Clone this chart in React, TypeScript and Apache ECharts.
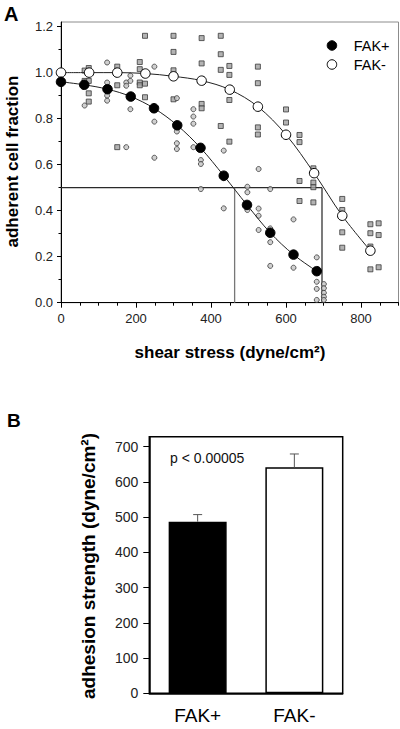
import React, { useEffect, useRef } from "react";
import * as echarts from "echarts";

// ---- Panel A data ----
const shearPlus = [0, 62, 124, 186, 248, 310, 372, 434, 496, 558, 620, 682];
const meanPlus = [0.96, 0.947, 0.928, 0.896, 0.845, 0.771, 0.673, 0.552, 0.425, 0.304, 0.209, 0.137];
const shearMinus = [0, 75, 150, 225, 300, 375, 450, 525, 600, 675, 750, 825];
const meanMinus = [1.0, 1.0, 1.0, 0.996, 0.984, 0.965, 0.926, 0.852, 0.73, 0.563, 0.378, 0.226];

const rawPlus: [number, number][] = [
  [63, 0.857],
  [123, 1.044], [123, 0.957], [123, 0.9], [123, 0.878],
  [174, 0.957], [174, 0.943], [174, 0.676],
  [185, 0.987], [185, 0.964], [185, 0.841],
  [249, 1.026], [249, 0.787], [249, 0.63],
  [309, 0.889], [309, 0.744], [309, 0.693], [309, 0.668],
  [353, 0.841], [353, 0.809], [353, 0.778], [353, 0.676],
  [373, 0.62], [373, 0.603], [373, 0.494],
  [434, 0.661], [434, 0.541], [434, 0.41],
  [497, 0.504], [497, 0.48], [497, 0.403],
  [527, 0.581], [527, 0.409], [527, 0.378], [527, 0.316],
  [558, 0.494], [558, 0.323], [558, 0.263], [558, 0.16],
  [620, 0.362], [620, 0.152],
  [682, 0.197], [682, 0.091], [682, 0.06], [682, 0.012],
  [701, 0.081], [701, 0.063], [701, 0.043], [701, 0.026], [701, 0.012],
];

const rawMinus: [number, number][] = [
  [63, 1.009], [74, 1.02], [63, 0.964], [74, 0.964], [74, 0.91], [74, 0.874],
  [150, 1.026], [150, 0.945], [150, 0.676],
  [210, 1.046], [210, 1.015], [210, 0.957], [224, 0.952], [210, 0.945], [224, 0.893], [224, 1.16],
  [300, 1.16], [300, 1.09], [300, 1.01], [300, 0.884],
  [375, 1.15], [375, 1.04], [375, 0.864], [375, 0.845],
  [426, 1.16], [426, 1.08], [426, 1.012], [426, 0.768],
  [449, 1.029], [449, 0.99], [449, 0.881], [449, 0.7],
  [525, 1.026], [525, 0.954], [525, 0.762], [525, 0.731],
  [600, 0.84], [600, 0.783],
  [636, 0.729], [636, 0.698], [636, 0.529], [636, 0.442],
  [673, 0.584], [673, 0.522], [673, 0.502], [673, 0.436],
  [750, 0.451], [750, 0.403], [750, 0.306], [750, 0.239],
  [825, 0.341], [825, 0.302], [825, 0.244], [825, 0.145],
  [847, 0.345], [847, 0.294], [847, 0.154],
];

const halfFraction = 0.5;
const strengthPlusFit = 463;
const strengthMinusFit = 696;

const xMajorTicks = [0, 200, 400, 600, 800];
const xMinorTicks = [0, 50, 100, 150, 200, 250, 300, 350, 400, 450, 500, 550, 600, 650, 700, 750, 800, 850, 900];
const yMajorTicks = [0, 0.2, 0.4, 0.6, 0.8, 1.0, 1.2];
const yMinorTicks = [0, 0.1, 0.2, 0.3, 0.4, 0.5, 0.6, 0.7, 0.8, 0.9, 1.0, 1.1, 1.2];

// ---- Panel B data ----
const groups = ["FAK+", "FAK-"];
const strength = [487, 641];
const strengthErr = [20, 38];
const strengthTicks = [0, 100, 200, 300, 400, 500, 600, 700];
const pValueText = "p < 0.00005";

const FONT = "Liberation Sans, Arial, Helvetica, sans-serif";

export default function App() {
  const ref = useRef<HTMLDivElement>(null);

  useEffect(() => {
    if (!ref.current) return;
    const chart = echarts.init(ref.current, null, { renderer: "svg" });

    const refLine = (data: number[][], color: string) => ({
      type: "line",
      xAxisIndex: 0,
      yAxisIndex: 0,
      data,
      symbol: "none",
      silent: true,
      lineStyle: { color, width: 1.3 },
      z: 2,
    });

    const option: any = {
      animation: false,
      textStyle: { fontFamily: FONT },
      grid: [
        { left: 61, top: 22, width: 337.5, height: 280.7, show: true, borderColor: "#8c8c8c", borderWidth: 1 },
        { left: 149.3, top: 436.7, width: 193.4, height: 256.6, show: true, borderColor: "#000", borderWidth: 1.5 },
      ],
      legend: {
        orient: "vertical",
        left: 321.7,
        top: 33,
        itemWidth: 9.5,
        itemHeight: 9.5,
        itemGap: 4,
        selectedMode: false,
        textStyle: { fontSize: 14.5, color: "#000", fontFamily: FONT, padding: [0, 0, 0, 12], lineHeight: 14 },
        data: [
          { name: "FAK+", icon: "circle", itemStyle: { color: "#000", borderColor: "#000", borderWidth: 1 } },
          { name: "FAK-", icon: "circle", itemStyle: { color: "#fff", borderColor: "#000", borderWidth: 1 } },
        ],
      },
      xAxis: [
        {
          gridIndex: 0, type: "value", min: 0, max: 900, position: "bottom",
          axisLine: { show: true, onZero: false, lineStyle: { color: "#000", width: 1 } },
          axisTick: { show: true, length: 5, customValues: xMajorTicks, lineStyle: { color: "#000" } },
          axisLabel: { customValues: xMajorTicks, fontSize: 13, color: "#222", margin: 9 },
          splitLine: { show: false },
        },
        {
          gridIndex: 0, type: "value", min: 0, max: 900, position: "bottom",
          axisLine: { show: false, onZero: false },
          axisTick: { show: true, length: 3, customValues: xMinorTicks, lineStyle: { color: "#000" } },
          axisLabel: { show: false },
          splitLine: { show: false },
        },
        {
          gridIndex: 1, type: "category", data: groups, position: "bottom",
          axisLine: { lineStyle: { color: "#000", width: 1.5 } },
          axisTick: { alignWithLabel: true, length: 3, lineStyle: { color: "#666" } },
          axisLabel: { fontSize: 19, color: "#000", margin: 13 },
          splitLine: { show: false },
        },
      ],
      yAxis: [
        {
          gridIndex: 0, type: "value", min: 0, max: 1.22, position: "left",
          axisLine: { show: true, onZero: false, lineStyle: { color: "#000", width: 1 } },
          axisTick: { show: true, length: 4, customValues: yMajorTicks, lineStyle: { color: "#000" } },
          axisLabel: { customValues: yMajorTicks, fontSize: 13, color: "#222", margin: 8, formatter: (v: number) => v.toFixed(1) },
          splitLine: { show: false },
        },
        {
          gridIndex: 0, type: "value", min: 0, max: 1.22, position: "left",
          axisLine: { show: false, onZero: false },
          axisTick: { show: true, length: 2.5, customValues: yMinorTicks, lineStyle: { color: "#000" } },
          axisLabel: { show: false },
          splitLine: { show: false },
        },
        {
          gridIndex: 1, type: "value", min: 0, max: 728, position: "left",
          axisLine: { show: true, onZero: false, lineStyle: { color: "#000", width: 1.5 } },
          axisTick: { show: true, length: 6, customValues: strengthTicks, lineStyle: { color: "#000" } },
          axisLabel: { customValues: strengthTicks, fontSize: 14, color: "#222", margin: 11 },
          splitLine: { show: false },
        },
      ],
      series: [
        refLine([[0, halfFraction], [strengthMinusFit, halfFraction]], "#2a2a2a"),
        refLine([[strengthPlusFit, 0], [strengthPlusFit, halfFraction]], "#777"),
        refLine([[strengthMinusFit, 0], [strengthMinusFit, halfFraction]], "#333"),
        {
          type: "scatter", name: "FAK- raw", xAxisIndex: 0, yAxisIndex: 0,
          data: rawMinus, symbol: "rect", symbolSize: 5, silent: true, z: 3,
          itemStyle: { color: "#a0a0a0", borderColor: "#3a3a3a", borderWidth: 1 },
        },
        {
          type: "scatter", name: "FAK+ raw", xAxisIndex: 0, yAxisIndex: 0,
          data: rawPlus, symbol: "circle", symbolSize: 5, silent: true, z: 3,
          itemStyle: { color: "#c4c4c4", borderColor: "#3a3a3a", borderWidth: 1 },
        },
        {
          type: "line", name: "FAK-", xAxisIndex: 0, yAxisIndex: 0,
          data: shearMinus.map((x, i) => [x, meanMinus[i]]),
          smooth: 0.35, symbol: "circle", symbolSize: 9.5, showAllSymbol: true, silent: true, z: 5,
          lineStyle: { color: "#222", width: 1 },
          itemStyle: { color: "#fff", borderColor: "#000", borderWidth: 1 },
        },
        {
          type: "line", name: "FAK+", xAxisIndex: 0, yAxisIndex: 0,
          data: shearPlus.map((x, i) => [x, meanPlus[i]]),
          smooth: 0.35, symbol: "circle", symbolSize: 9.5, showAllSymbol: true, silent: true, z: 5,
          lineStyle: { color: "#222", width: 1 },
          itemStyle: { color: "#000", borderColor: "#000", borderWidth: 1 },
        },
        {
          type: "bar", name: "adhesion strength", xAxisIndex: 2, yAxisIndex: 2, barWidth: 58, silent: true,
          data: strength.map((v, i) => ({
            value: v,
            itemStyle: i === 0
              ? { color: "#000", borderColor: "#000", borderWidth: 1.5 }
              : { color: "#fff", borderColor: "#000", borderWidth: 1.5 },
          })),
        },
        {
          type: "custom", name: "error", xAxisIndex: 2, yAxisIndex: 2, silent: true, z: 4,
          data: strength.map((v, i) => [i, v, strengthErr[i]]),
          encode: { x: 0, y: 1 },
          renderItem: (_p: any, api: any) => {
            const i = api.value(0);
            const v = api.value(1);
            const e = api.value(2);
            const p0 = api.coord([i, v]);
            const p1 = api.coord([i, v + e]);
            const style = { stroke: "#555", lineWidth: 1 };
            return {
              type: "group",
              children: [
                { type: "line", shape: { x1: p0[0], y1: p0[1], x2: p1[0], y2: p1[1] }, style },
                { type: "line", shape: { x1: p1[0] - 4.5, y1: p1[1], x2: p1[0] + 4.5, y2: p1[1] }, style },
              ],
            };
          },
        },
      ],
      graphic: [
        { type: "text", x: 4, y: 14, style: { text: "A", fontSize: 20, fontWeight: "bold", fontFamily: FONT, fill: "#000", align: "left", verticalAlign: "middle" } },
        { type: "text", x: 7, y: 420.5, style: { text: "B", fontSize: 19, fontWeight: "bold", fontFamily: FONT, fill: "#000", align: "left", verticalAlign: "middle" } },
        { type: "text", x: 12.5, y: 161.5, rotation: Math.PI / 2, style: { text: "adherent cell fraction", fontSize: 17, fontWeight: "bold", fontFamily: FONT, fill: "#000", align: "center", verticalAlign: "middle" } },
        { type: "text", x: 230, y: 352, style: { text: "shear stress (dyne/cm²)", fontSize: 17, fontWeight: "bold", fontFamily: FONT, fill: "#000", align: "center", verticalAlign: "middle" } },
        { type: "text", x: 88, y: 566, rotation: Math.PI / 2, style: { text: "adhesion strength (dyne/cm²)", fontSize: 19, fontWeight: "bold", fontFamily: FONT, fill: "#000", align: "center", verticalAlign: "middle" } },
        { type: "text", x: 170, y: 458.3, style: { text: pValueText, fontSize: 14, fontFamily: FONT, fill: "#111", align: "left", verticalAlign: "middle" } },
      ],
    };

    chart.setOption(option);
    return () => chart.dispose();
  }, []);

  return (
    <div
      ref={ref}
      style={{ position: "absolute", left: 0, top: 0, width: 400, height: 729, background: "#fff" }}
    />
  );
}
